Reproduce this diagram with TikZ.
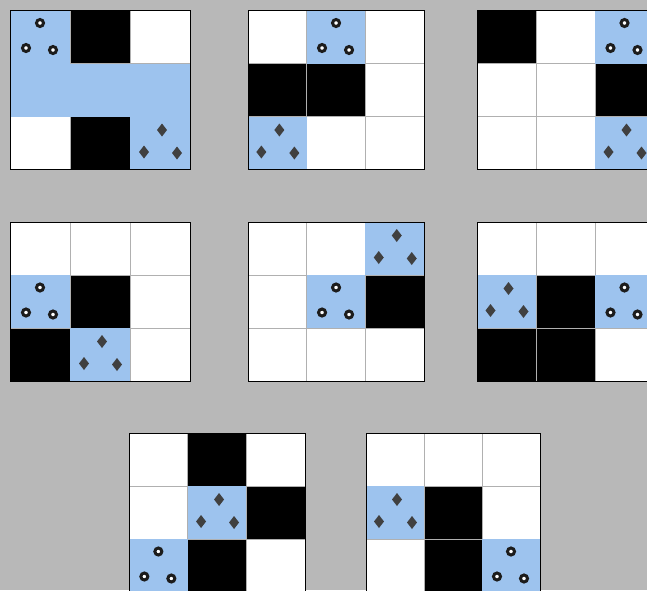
\documentclass[tikz,border=0pt]{standalone}
\usetikzlibrary{positioning}
\definecolor{bg}{HTML}{B8B8B8}
\definecolor{sky}{HTML}{9DC3EE}
\definecolor{rule}{HTML}{B0B0B0}
\definecolor{ink}{HTML}{1C1C1C}
\definecolor{stone}{HTML}{404040}

% #1,#2 corner, #3 cell width, #4 black cells, #5 ring cells, #6 diamond cells, #7 plain blue cells
\newcommand\board[7]{%
\begin{scope}[shift={(#1,#2)}]
\fill[white] (0,0) rectangle (3*#3,159);
\foreach \c/\r in {#4} {\fill[black] (\c*#3,\r*53) rectangle ++(#3,53);}
\foreach \i in {1,2} {\draw[gridline] (\i*#3,0) -- ++(0,159); \draw[gridline] (0,\i*53) -- ++(3*#3,0);}
\foreach \c/\r in {#7} {\fill[sky] (\c*#3,\r*53) rectangle ++(#3,53);}
\foreach \c/\r in {#5} {\fill[sky] (\c*#3,\r*53) rectangle ++(#3,53);
  \foreach \dx/\dy in {0/-14,-14/11,13/13} {\draw[ring] (\c*#3+0.5*#3+\dx,\r*53+26.5+\dy) circle (3.5);}}
\foreach \c/\r in {#6} {\fill[sky] (\c*#3,\r*53) rectangle ++(#3,53);
  \foreach \dx/\dy in {2/-13,-16/9,17/10} {\fill[gem] (\c*#3+0.5*#3+\dx,\r*53+26.5+\dy) +(0,-6.5) -- +(5,0) -- +(0,6.5) -- +(-5,0) -- cycle;}}
\draw[frame] (0,0) rectangle (3*#3,159);
\end{scope}}

\begin{document}
\begin{tikzpicture}[x=1pt,y=-1pt,
  gridline/.style={draw=rule,line width=0.8},
  ring/.style={draw=ink,line width=3,fill=white},
  gem/.style={fill=stone},
  frame/.style={draw=black,line width=1}]
\fill[bg] (0,0) rectangle (647,590);
\useasboundingbox (0,0) rectangle (647,590);
% top row
\board{10}{10.5}{60}{1/0,1/2}{0/0}{2/2}{0/1,1/1,2/1}
\board{248}{10.5}{58.7}{0/1,1/1}{1/0}{0/2}{}
\board{477}{10.5}{59}{0/0,2/1}{2/0}{2/2}{}
% middle row
\board{10}{222}{60}{1/1,0/2}{0/1}{1/2}{}
\board{248}{222}{58.7}{2/1}{1/1}{2/0}{}
\board{477}{222}{59}{1/1,0/2,1/2}{2/1}{0/1}{}
% bottom row
\board{129}{433}{58.7}{1/0,2/1,1/2}{0/2}{1/1}{}
\board{366}{433}{58}{1/1,1/2}{2/2}{0/1}{}
\end{tikzpicture}
\end{document}
